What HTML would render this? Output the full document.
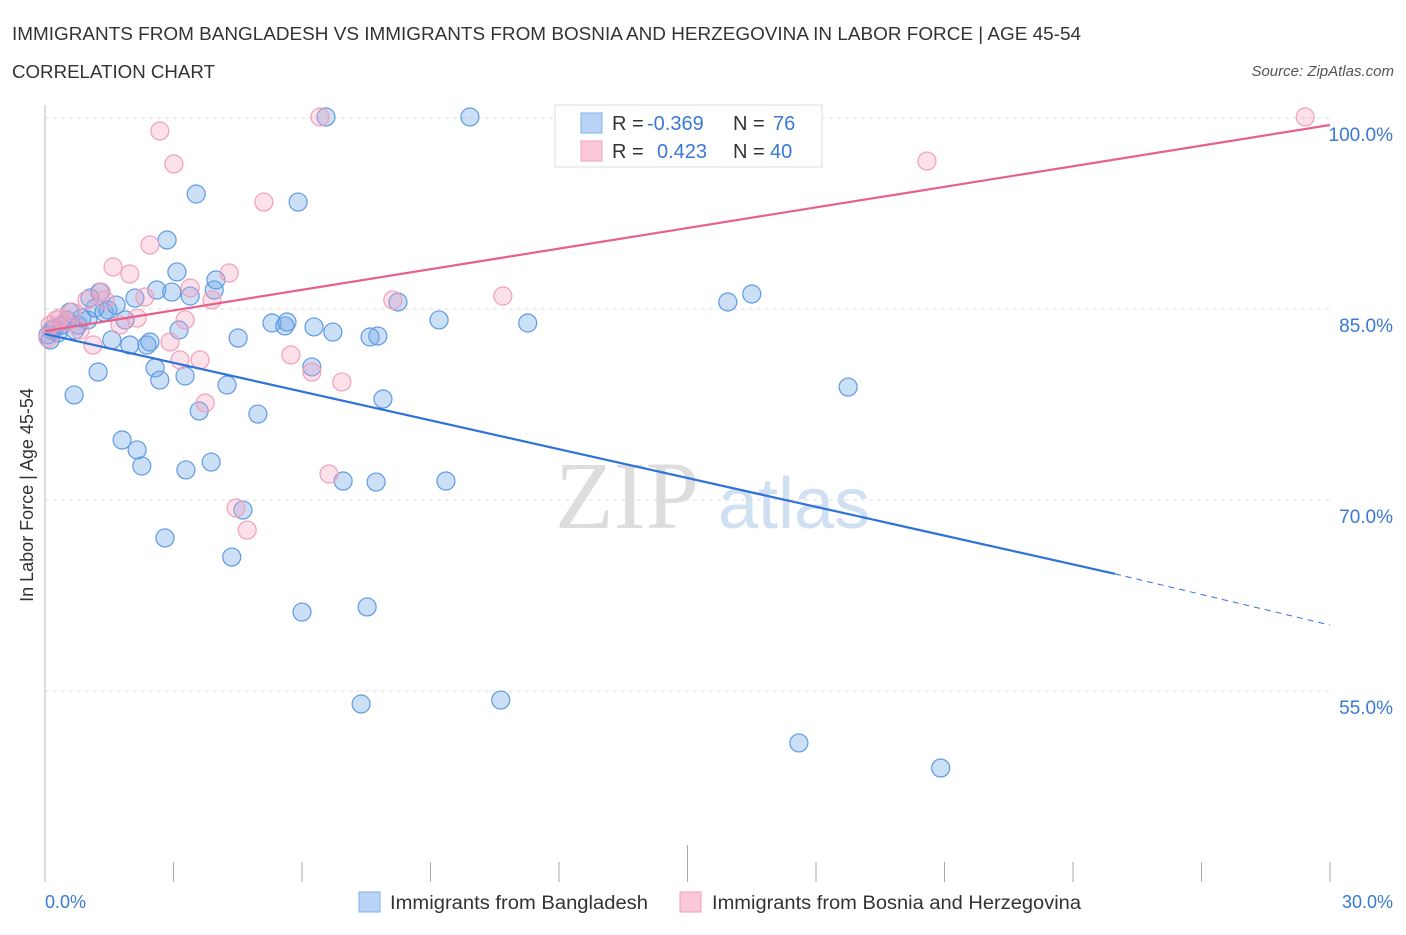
<!DOCTYPE html>
<html><head><meta charset="utf-8"><style>
body{margin:0;background:#fff;font-family:"Liberation Sans",sans-serif;}
</style></head><body>
<svg id="c" width="1406" height="930" xmlns="http://www.w3.org/2000/svg" style="font-family:'Liberation Sans',sans-serif">
<text x="12" y="40" font-size="18" fill="#333" textLength="1069" lengthAdjust="spacingAndGlyphs">IMMIGRANTS FROM BANGLADESH VS IMMIGRANTS FROM BOSNIA AND HERZEGOVINA IN LABOR FORCE | AGE 45-54</text>
<text x="12" y="78" font-size="18" fill="#333" textLength="203" lengthAdjust="spacingAndGlyphs">CORRELATION CHART</text>
<text x="1394" y="76" font-size="15" fill="#555" font-style="italic" text-anchor="end">Source: ZipAtlas.com</text>
<g>
<text x="555" y="528" font-size="96" fill="#ddd" font-family="Liberation Serif,serif">ZIP</text>
<text x="718" y="528" font-size="72" fill="#cfe0f3">atlas</text>
</g>
<g id="grid"></g>
<g id="ticks"></g>
<line x1="45" y1="105" x2="45" y2="882" stroke="#bbb"/>
<text transform="translate(33,495) rotate(-90)" font-size="18" fill="#333" text-anchor="middle">In Labor Force | Age 45-54</text>
<g id="pts"></g>
<g id="lines"></g>
<g>
<rect x="555" y="105" width="267" height="62" fill="#fff" stroke="#ddd"/>
<rect x="581" y="113" width="21" height="20" fill="#b8d3f5" stroke="#80b0ea"/>
<rect x="581" y="141" width="21" height="20" fill="#fbc8d8" stroke="#f0a0b8"/>
<text x="612" y="130" font-size="20" fill="#333">R = <tspan fill="#3a78d4" x="647">-0.369</tspan><tspan x="733">N = </tspan><tspan fill="#3a78d4" x="773">76</tspan></text>
<text x="612" y="158" font-size="20" fill="#333">R = <tspan fill="#3a78d4" x="657">0.423</tspan><tspan x="733">N = </tspan><tspan fill="#3a78d4" x="770">40</tspan></text>
</g>
<g>
<rect x="359" y="892" width="21" height="20" fill="#b8d3f5" stroke="#80b0ea"/>
<text x="390" y="909" font-size="19" fill="#333" textLength="258" lengthAdjust="spacingAndGlyphs">Immigrants from Bangladesh</text>
<rect x="680" y="892" width="21" height="20" fill="#fbc8d8" stroke="#f0a0b8"/>
<text x="712" y="909" font-size="19" fill="#333" textLength="369" lengthAdjust="spacingAndGlyphs">Immigrants from Bosnia and Herzegovina</text>
</g>
<text x="45" y="908" font-size="18" fill="#3a78d4">0.0%</text>
<text x="1393" y="908" font-size="18" fill="#3a78d4" text-anchor="end">30.0%</text>
</svg>
<script>
const blueX=[0.07,0.16,0.23,0.30,0.40,0.51,0.58,0.70,0.77,0.86,1.00,1.05,1.17,1.28,1.38,1.47,1.56,1.66,1.87,1.98,2.10,2.38,2.45,2.57,2.61,2.68,2.80,2.85,2.96,3.08,3.13,3.27,3.29,3.39,3.53,3.60,3.88,3.95,3.99,4.25,4.36,4.51,4.97,5.30,5.60,5.65,5.91,6.00,6.23,6.28,6.56,6.72,6.96,7.38,7.52,7.59,7.73,7.77,7.89,8.24,9.20,9.36,9.92,10.64,11.27,15.94,16.50,17.60,18.75,20.91,1.24,0.68,1.80,2.15,2.26,4.62,0.12];
const blueY=[82.96,83.35,83.51,83.12,83.74,84.14,84.76,83.35,83.74,84.29,84.14,85.86,85.08,86.33,84.76,84.92,82.57,85.31,84.14,82.17,85.86,82.17,82.41,80.37,86.49,79.42,67.02,90.42,86.33,87.91,83.35,79.74,72.36,86.02,94.03,76.99,72.98,86.49,87.28,79.03,65.52,82.72,76.75,83.90,83.67,83.98,93.40,61.20,80.45,83.59,100.08,83.19,71.49,53.98,61.60,82.80,71.41,82.88,77.93,85.55,84.14,71.49,100.08,54.29,83.90,85.55,86.18,50.92,78.87,48.95,80.05,78.25,74.71,73.93,72.67,69.21,82.57];
const pinkX=[0.12,0.26,0.47,0.63,0.82,1.12,1.31,1.40,1.59,1.75,1.98,2.15,2.33,2.45,2.68,2.92,3.01,3.15,3.27,3.39,3.62,3.74,3.90,4.30,4.46,4.72,5.11,5.74,6.23,6.42,6.63,6.93,8.12,10.69,15.40,20.59,29.42,0.07,0.35,0.98];
const pinkY=[83.74,84.14,83.98,84.76,83.35,82.17,86.33,85.71,88.30,83.74,87.75,84.29,85.94,90.03,98.98,82.41,96.39,81.00,84.14,86.65,81.00,77.62,85.71,87.83,69.37,67.64,93.40,81.39,80.05,100.08,72.04,79.27,85.71,86.02,100.08,96.62,100.08,82.72,84.29,85.71];
const yTicks=[100,85,70,55];
const yTickLabels=["100.0%","85.0%","70.0%","55.0%"];
const xTicks=[0,3,6,9,12,15,18,21,24,27,30];
const blueTrend=[[0,83.04],[24.98,64.2],[30,60.18]];
const pinkTrend=[[0,83.27],[30,99.45]];
const X=v=>45+v*(1285/30);
const Y=v=>118+(100-v)*(191/15);
const NS="http://www.w3.org/2000/svg";
function mk(t,a,p){const e=document.createElementNS(NS,t);for(const k in a)e.setAttribute(k,a[k]);p.appendChild(e);return e;}
const grid=document.getElementById('grid');
yTicks.forEach((v,i)=>{
 const l=mk('line',{x1:45,x2:1330,y1:Y(v),y2:Y(v),stroke:'#ddd','stroke-dasharray':'4,4'},grid);
 
 
 const t=mk('text',{x:1393,y:Y(v)+23,'font-size':19,fill:'#3a78d4','text-anchor':'end'},grid);
 t.textContent=yTickLabels[i];
 
 
});
const tk=document.getElementById('ticks');
xTicks.forEach(v=>{
 const l=mk('line',{x1:X(v),x2:X(v),y1:v==15?845:862,y2:882,stroke:'#aaa'},tk);
 
 
});
const pts=document.getElementById('pts');
blueX.forEach((x,i)=>{
 const c=mk('circle',{cx:X(x),cy:Y(blueY[i]),r:9,fill:'rgba(110,165,230,0.36)',stroke:'#5f9be4','stroke-width':1.2},pts);
 
 
});
pinkX.forEach((x,i)=>{
 const c=mk('circle',{cx:X(x),cy:Y(pinkY[i]),r:9,fill:'rgba(245,160,190,0.32)',stroke:'#f0a0ba','stroke-width':1.2},pts);
 
 
});
const ln=document.getElementById('lines');
let a=mk('line',{x1:X(blueTrend[0][0]),y1:Y(blueTrend[0][1]),x2:X(blueTrend[1][0]),y2:Y(blueTrend[1][1]),stroke:'#2f73d8','stroke-width':2.2},ln);


a=mk('line',{x1:X(blueTrend[1][0]),y1:Y(blueTrend[1][1]),x2:X(blueTrend[2][0]),y2:Y(blueTrend[2][1]),stroke:'#2f73d8','stroke-width':1,'stroke-dasharray':'6,5'},ln);


a=mk('line',{x1:X(pinkTrend[0][0]),y1:Y(pinkTrend[0][1]),x2:X(pinkTrend[1][0]),y2:Y(pinkTrend[1][1]),stroke:'#e8608a','stroke-width':2.2},ln);


</script>
</body></html>
